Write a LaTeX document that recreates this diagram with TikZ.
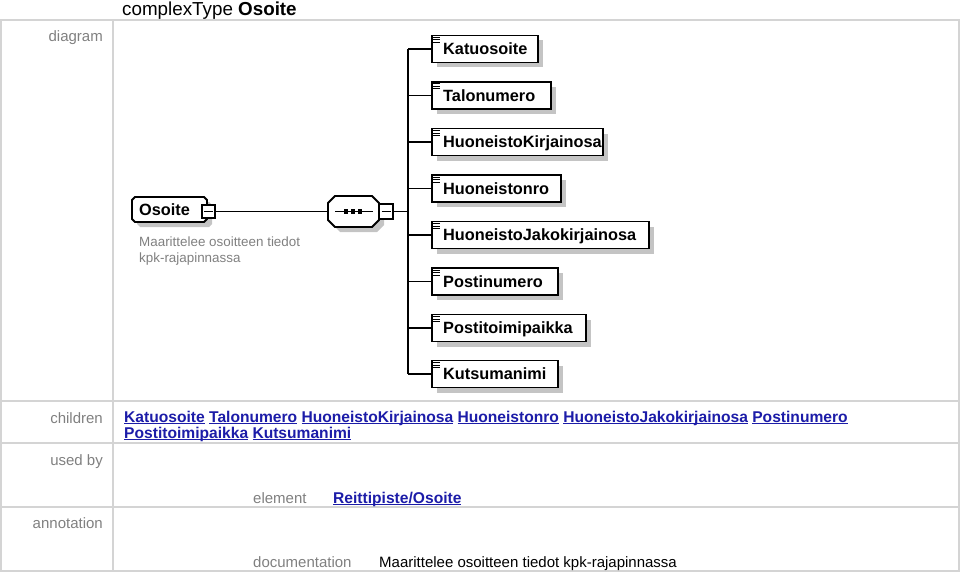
\documentclass[tikz,border=0pt]{standalone}
\usepackage{fontspec}
\setmainfont{Liberation Sans}
\usetikzlibrary{shadows}
\definecolor{linkblue}{RGB}{28,28,168}
\definecolor{labgrey}{RGB}{128,128,128}
\definecolor{rulegrey}{RGB}{212,212,212}
\definecolor{shadowgrey}{RGB}{196,196,196}
\newcommand\lnk[1]{{\color{linkblue}\setbox0\hbox{#1}\rlap{\rule[-2.2pt]{\wd0}{1.2pt}}\box0}}
\begin{document}
\begin{tikzpicture}[x=1pt,y=-1pt,
  tabline/.style={draw=rulegrey,line width=1.4pt},
  lab/.style={anchor=base east,inner sep=0,text=labgrey,font=\fontsize{15}{18}\selectfont},
  plain/.style={anchor=base west,inner sep=0,font=\fontsize{15}{18}\selectfont},
  linkline/.style={anchor=base west,inner sep=0,font=\fontsize{15.6}{18}\selectfont\bfseries},
  shad/.style={copy shadow={shadow xshift=5pt,shadow yshift=-5pt,fill=shadowgrey,draw=none}},
  elbox/.style={draw=black,line width=1.8pt,fill=white,rectangle,minimum height=27,inner sep=0,shad},
  eltext/.style={anchor=base west,inner sep=0,font=\fontsize{16.3}{19}\selectfont\bfseries},
  icon/.style={line width=1pt},
  minusbox/.style={draw=black,line width=1.4pt,fill=white,rectangle,inner sep=0},
  anchorbox/.style={rectangle,inner sep=0,draw=none},
  octo/.style={draw=black,line width=1.8pt,fill=white,line join=miter},
  octoshadow/.style={fill=shadowgrey,draw=none},
  conn/.style={line width=1.8pt}]
\useasboundingbox (0,0) rectangle (960,575);
% table
\draw[tabline] (1,20) rectangle (959,571);
\draw[tabline] (113,20) -- (113,571);
\draw[tabline] (1,401) -- (959,401);
\draw[tabline] (1,443) -- (959,443);
\draw[tabline] (1,507) -- (959,507);
% title
\node[anchor=base west,inner sep=0,font=\fontsize{18.8}{22}\selectfont] (title) at (122,16) {complexType \textbf{Osoite}};
% labels
\node[lab] (ldiag) at (103,42) {diagram};
\node[lab] (lchild) at (103,423) {children};
\node[lab] (lused) at (103,465) {used by};
\node[lab] (lann) at (103,528) {annotation};
% children links
\node[linkline] (ch1) at (124,422) {\lnk{Katuosoite} \lnk{Talonumero} \lnk{HuoneistoKirjainosa} \lnk{Huoneistonro} \lnk{HuoneistoJakokirjainosa} \lnk{Postinumero}};
\node[linkline] (ch2) at (124,438) {\lnk{Postitoimipaikka} \lnk{Kutsumanimi}};
% used by
\node[plain,text=labgrey] (lel) at (253,503) {element};
\node[linkline] (lelv) at (333,503) {\lnk{Reittipiste/Osoite}};
% annotation
\node[plain,text=labgrey] (ldoc) at (253,567) {documentation};
\node[plain] (ldocv) at (379,567) {Maarittelee osoitteen tiedot kpk-rajapinnassa};
% diagram: root element
\fill[octoshadow] (140,202) -- (209,202) -- (212,205) -- (212,224) -- (209,227) -- (140,227) -- (137,224) -- (137,205) -- cycle;
\node[anchorbox,minimum width=75,minimum height=25] (root) at (169.5,209.5) {};
\draw[octo] (135,197) -- (204,197) -- (207,200) -- (207,219) -- (204,222) -- (135,222) -- (132,219) -- (132,200) -- cycle;
\node[eltext] (roott) at (139,215.5) {Osoite};
\node[minusbox,minimum width=13,minimum height=13] (rm) at (208.5,211.5) {};
\draw[line width=1.3pt] ([xshift=-4.5]rm.center) -- ([xshift=4.5]rm.center);
\node[inner sep=0,anchor=base west,text=labgrey,font=\fontsize{13.4}{16}\selectfont] (rd1) at (139,246) {Maarittelee osoitteen tiedot};
\node[inner sep=0,anchor=base west,text=labgrey,font=\fontsize{13.4}{16}\selectfont] (rd2) at (139,262) {kpk-rajapinnassa};
% sequence compositor
\fill[octoshadow] (340,201) -- (377,201) -- (384,208) -- (384,225) -- (377,232) -- (340,232) -- (333,225) -- (333,208) -- cycle;
\node[anchorbox,minimum width=52,minimum height=31] (seq) at (353,211.5) {};
\draw[octo] (335,196) -- (372,196) -- (379,203) -- (379,220) -- (372,227) -- (335,227) -- (328,220) -- (328,203) -- cycle;
\draw[line width=1.5pt] ([xshift=-18]seq.center) -- ([xshift=20]seq.center);
\foreach \dx in {-7,0,7} \fill ([xshift=\dx-2.4,yshift=-2.4]seq.center) rectangle ([xshift=\dx+2.4,yshift=2.4]seq.center);
\node[minusbox,minimum width=14,minimum height=15] (sm) at (386,211.5) {};
\draw[line width=1.3pt] ([xshift=-4.5]sm.center) -- ([xshift=4.5]sm.center);
\draw[conn] (rm.east) -- (seq.west);
\coordinate (spine) at (408,211.5);
\draw[conn] (sm.east) -- (spine);
% child elements
\foreach \n/\yy/\r/\t in {e1/49/537/Katuosoite,e2/95.5/550/Talonumero,e3/142/602/HuoneistoKirjainosa,e4/188.5/560/Huoneistonro,e5/235/648/HuoneistoJakokirjainosa,e6/281.5/557/Postinumero,e7/328/585/Postitoimipaikka,e8/374/557/Kutsumanimi}{
  \node[elbox,minimum width={\r-431},anchor=west] (\n) at (431,\yy) {};
  \node[eltext] (\n t) at (443,\yy+5.7) {\t};
  \foreach \k in {11.5,9,6.5} \draw[icon] (433,\yy-\k) -- (440,\yy-\k);
  \draw[conn] (spine |- \n.west) -- (\n.west);
}
\draw[conn] (spine |- e1.west) -- (spine |- e8.west);
\end{tikzpicture}
\end{document}
